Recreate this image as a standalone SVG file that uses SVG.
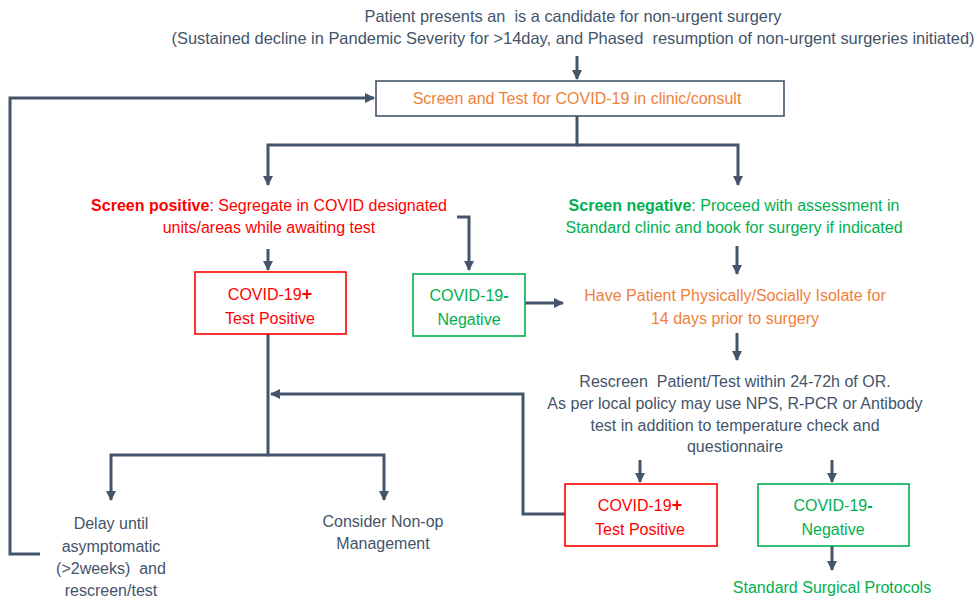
<svg xmlns="http://www.w3.org/2000/svg" width="977" height="601" viewBox="0 0 977 601">
  <style>
    text { font-family: "Liberation Sans", Arial, sans-serif; font-size: 16px; text-anchor: middle; white-space: pre; }
    .gray { fill: #44546A; }
    .orange { fill: #F0813C; }
    .red { fill: #FF0000; }
    .green { fill: #00B050; }
    .b { font-weight: bold; }
    .title { font-size: 16.5px; }
    .box { fill: #FFFFFF; stroke-width: 1.6; }
    .conn { fill: none; stroke: #44546A; stroke-width: 3; stroke-linejoin: miter; }
  </style>
  <defs>
    <marker id="ah" viewBox="0 0 10 10" refX="9" refY="5" markerWidth="3.4" markerHeight="3.4" orient="auto" markerUnits="strokeWidth">
      <path d="M0,0 L10,5 L0,10 z" fill="#44546A"/>
    </marker>
  </defs>
  <rect width="977" height="601" fill="#FFFFFF"/>

  <!-- connectors -->
  <g id="connectors">
    <path class="conn" d="M577,56 V79" marker-end="url(#ah)"/>
    <path class="conn" d="M577,116 V145 H268 V185" marker-end="url(#ah)"/>
    <path class="conn" d="M577,145 H738 V185" marker-end="url(#ah)"/>
    <path class="conn" d="M40,554 H10 V98 H374" marker-end="url(#ah)"/>
    <path class="conn" d="M268,249 V270" marker-end="url(#ah)"/>
    <path class="conn" d="M457,217 H469 V270" marker-end="url(#ah)"/>
    <path class="conn" d="M525,303 H563" marker-end="url(#ah)"/>
    <path class="conn" d="M737,246 V274" marker-end="url(#ah)"/>
    <path class="conn" d="M737,333 V360" marker-end="url(#ah)"/>
    <path class="conn" d="M268,334 V455 H111 V500" marker-end="url(#ah)"/>
    <path class="conn" d="M268,455 H384 V500" marker-end="url(#ah)"/>
    <path class="conn" d="M565,514 H523 V394 H271" marker-end="url(#ah)"/>
    <path class="conn" d="M640,460 V482" marker-end="url(#ah)"/>
    <path class="conn" d="M832,460 V482" marker-end="url(#ah)"/>
    <path class="conn" d="M832,546 V570" marker-end="url(#ah)"/>
  </g>

  <g id="start">
    <text class="gray title" x="573" y="22" textLength="417" lengthAdjust="spacingAndGlyphs">Patient presents an  is a candidate for non-urgent surgery</text>
    <text class="gray title" x="573" y="44" textLength="803" lengthAdjust="spacingAndGlyphs">(Sustained decline in Pandemic Severity for &gt;14day, and Phased  resumption of non-urgent surgeries initiated)</text>
  </g>

  <g id="screen-test">
    <rect class="box" x="376" y="81" width="408" height="35" stroke="#44546A"/>
    <text class="orange" x="577" y="104">Screen and Test for COVID-19 in clinic/consult</text>
  </g>

  <g id="screen-positive">
    <text class="red" x="269" y="211"><tspan class="b">Screen positive</tspan>: Segregate in COVID designated</text>
    <text class="red" x="269" y="233">units/areas while awaiting test</text>
  </g>

  <g id="screen-negative">
    <text class="green" x="734" y="211"><tspan class="b">Screen negative</tspan>: Proceed with assessment in</text>
    <text class="green" x="734" y="233">Standard clinic and book for surgery if indicated</text>
  </g>

  <g id="covid-pos-1">
    <rect class="box" x="195" y="272" width="151" height="62" stroke="#FF0000"/>
    <text class="red" x="270" y="300">COVID-19<tspan class="b" font-size="18">+</tspan></text>
    <text class="red" x="270" y="324">Test Positive</text>
  </g>

  <g id="covid-neg-1">
    <rect class="box" x="413" y="274" width="112" height="62" stroke="#00B050"/>
    <text class="green" x="469" y="301">COVID-19<tspan class="b">-</tspan></text>
    <text class="green" x="469" y="325">Negative</text>
  </g>

  <g id="isolate">
    <text class="orange" x="735" y="301">Have Patient Physically/Socially Isolate for</text>
    <text class="orange" x="735" y="324">14 days prior to surgery</text>
  </g>

  <g id="rescreen">
    <text class="gray" x="735" y="387">Rescreen  Patient/Test within 24-72h of OR.</text>
    <text class="gray" x="735" y="409">As per local policy may use NPS, R-PCR or Antibody</text>
    <text class="gray" x="735" y="431">test in addition to temperature check and</text>
    <text class="gray" x="735" y="452">questionnaire</text>
  </g>

  <g id="covid-pos-2">
    <rect class="box" x="565" y="484" width="152" height="62" stroke="#FF0000"/>
    <text class="red" x="640" y="511">COVID-19<tspan class="b" font-size="18">+</tspan></text>
    <text class="red" x="640" y="535">Test Positive</text>
  </g>

  <g id="covid-neg-2">
    <rect class="box" x="758" y="484" width="151" height="62" stroke="#00B050"/>
    <text class="green" x="833" y="511">COVID-19<tspan class="b">-</tspan></text>
    <text class="green" x="833" y="535">Negative</text>
  </g>

  <g id="standard-protocols">
    <text class="green" x="832" y="593">Standard Surgical Protocols</text>
  </g>

  <g id="delay">
    <text class="gray" x="111" y="529">Delay until</text>
    <text class="gray" x="111" y="552">asymptomatic</text>
    <text class="gray" x="111" y="574">(&gt;2weeks)  and</text>
    <text class="gray" x="111" y="596">rescreen/test</text>
  </g>

  <g id="non-op">
    <text class="gray" x="383" y="527">Consider Non-op</text>
    <text class="gray" x="383" y="549">Management</text>
  </g>
</svg>
